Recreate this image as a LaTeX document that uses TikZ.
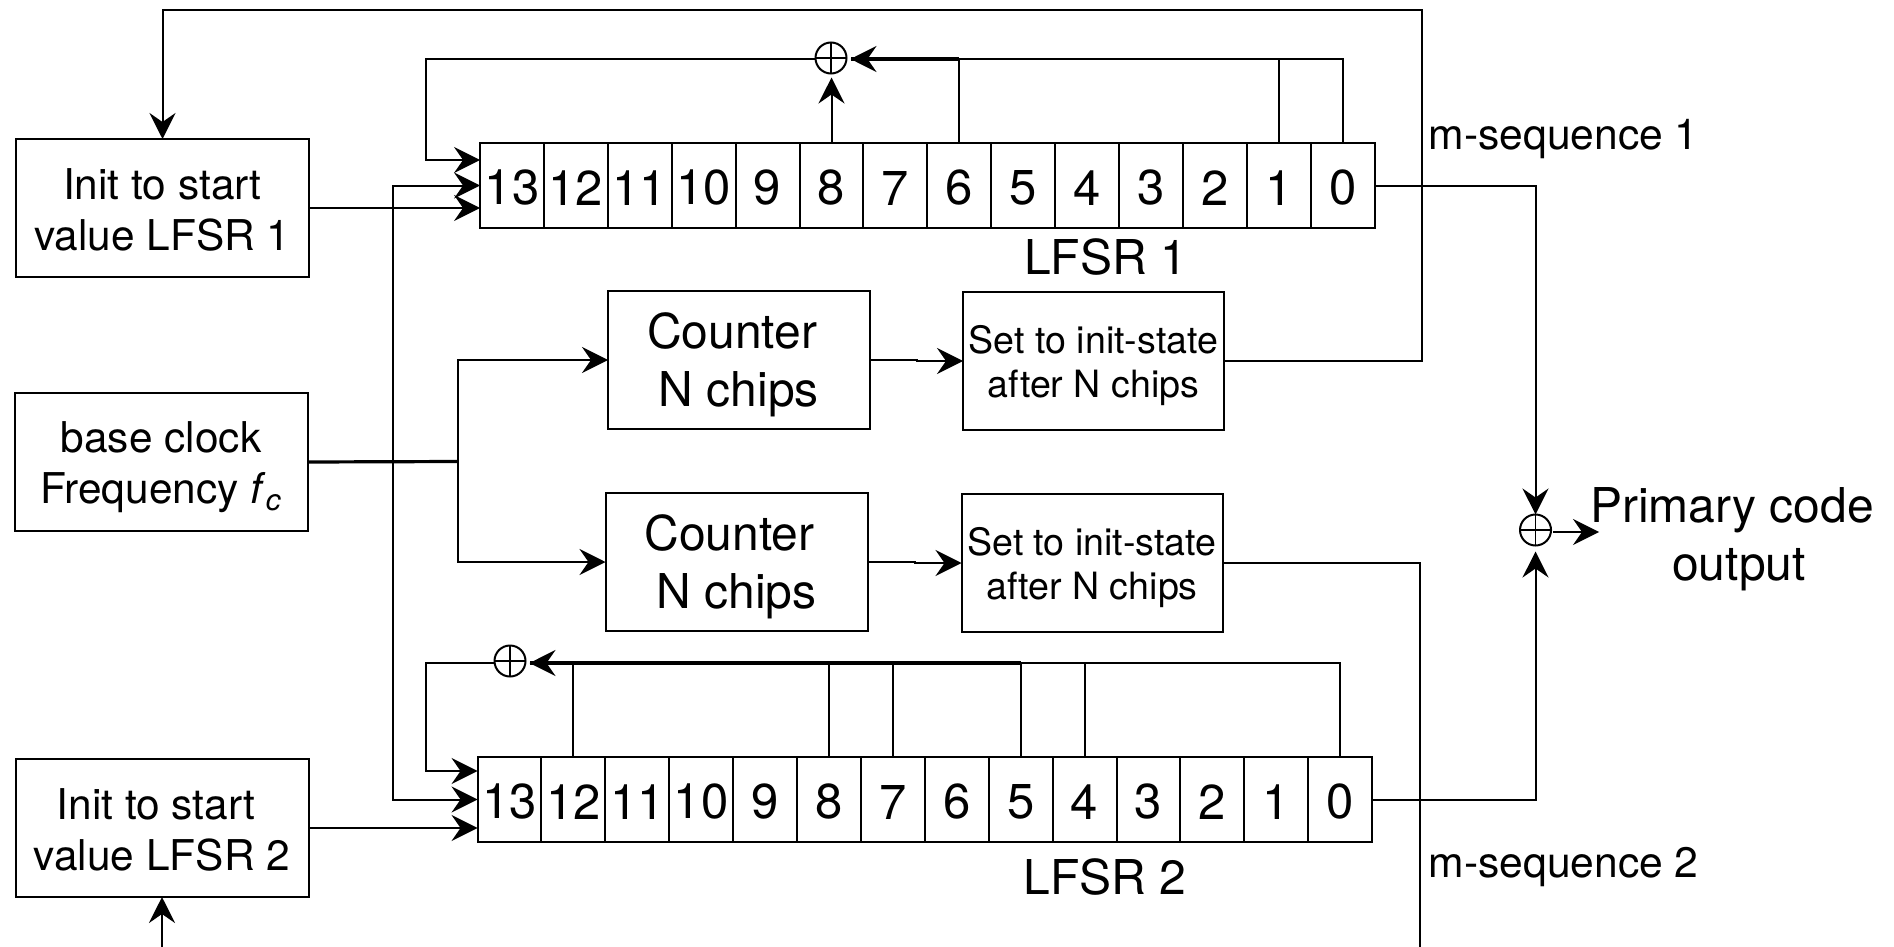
\documentclass[tikz,border=0pt]{standalone}
\usepackage{fontspec}
\setmainfont{TeX Gyre Heros}
\usepackage{tikz}
\usetikzlibrary{positioning,arrows.meta,calc}
% first-line strut, pushes a centred text down in its box
\newcommand{\topstrut}[1]{\rule{0pt}{#1}}
\tikzset{
  node-base/.style={draw=black,line width=1pt,inner sep=0pt,outer sep=0pt,align=center},
  node-init/.style={node-base,minimum width=146.5pt,minimum height=69pt,
    font=\fontsize{21.2}{25.5}\selectfont},
  node-count/.style={node-base,minimum width=131pt,minimum height=69pt,
    font=\fontsize{24}{29}\selectfont},
  node-reset/.style={node-base,minimum width=130.5pt,minimum height=69pt,
    font=\fontsize{18.8}{22}\selectfont},
  node-cell/.style={node-base,minimum width=31.95pt,minimum height=42.5pt,
    font=\fontsize{24.5}{29}\selectfont},
  node-xor/.style={draw=black,line width=1pt,circle,inner sep=0pt,outer sep=0pt,
    minimum size=15.5pt,path picture={
      \draw[line width=.8pt] (path picture bounding box.north) -- (path picture bounding box.south);
      \draw[line width=.8pt] (path picture bounding box.west) -- (path picture bounding box.east);}},
  text-big/.style={inner sep=0pt,outer sep=0pt,align=center,font=\fontsize{24}{29}\selectfont},
  text-small/.style={inner sep=0pt,outer sep=0pt,font=\fontsize{21.3}{25}\selectfont},
  wire/.style={line width=1pt,draw=black},
  wire-bus/.style={line width=1.6pt,draw=black},
  arrow/.style={-{Stealth[length=13pt,width=13pt,inset=4.5pt]},line width=1pt,draw=black},
}
\begin{document}
\begin{tikzpicture}[x=.5pt,y=-.5pt]
  \useasboundingbox (0,0) rectangle (1894,947);
  % left column
  \node[node-init]                                   (init1) at (162.5,208) {\topstrut{17pt}Init to start\\value LFSR 1};
  \node[node-init,below=58pt of init1,xshift=-.75pt] (clock) {\topstrut{21pt}base clock\\Frequency \textit{f}\textsubscript{\textit{c}}};
  \node[node-init,below=114pt of clock,xshift=.5pt]  (init2) {\topstrut{17pt}Init to start\hspace*{6pt}\\value LFSR 2};
  % counters
  \node[node-count]                                  (cnt1) at (739,360) {\topstrut{23pt}Counter\hspace*{7pt}\\N chips};
  \node[node-reset,right=46.5pt of cnt1,yshift=-.5pt] (set1) {\topstrut{19pt}Set to init-state\\after N chips};
  \node[node-count]                                  (cnt2) at (736.5,562) {\topstrut{23pt}Counter\hspace*{7pt}\\N chips};
  \node[node-reset,right=47pt of cnt2,yshift=-.5pt]  (set2) {\topstrut{19pt}Set to init-state\\after N chips};
  % shift registers
  \node[node-cell] (a13) at (512,185.5) {\topstrut{19.5pt}13};
  \node[node-cell] (b13) at (509.5,799.5) {\topstrut{19.5pt}13};
  \foreach \prev/\bit in {13/12,12/11,11/10,10/9,9/8,8/7,7/6,6/5,5/4,4/3,3/2,2/1,1/0} {
    \node[node-cell,right=0pt of a\prev] (a\bit) {\topstrut{19.5pt}\bit};
    \node[node-cell,right=0pt of b\prev] (b\bit) {\topstrut{19.5pt}\bit};
  }
  \node[text-big] (name1) at (1105.5,257) {LFSR 1};
  \node[text-big] (name2) at (1105,877) {LFSR 2};
  \node[text-small,anchor=west] (seq1) at (1428.5,139) {m-sequence 1};
  \node[text-small,anchor=west] (seq2) at (1428.5,867) {m-sequence 2};
  % xor gates
  \node[node-xor] (xor1) at (831,58) {};
  \node[node-xor] (xor2) at (510,661) {};
  \node[node-xor] (xor3) at (1535.5,530) {};
  \node[text-big] (out) at (1739,539) {Primary code\hspace*{7pt}\\output};
  \coordinate (fb1) at ([xshift=2pt,yshift=-.5pt]xor1.east);
  \coordinate (fb2) at ([xshift=2pt,yshift=-1pt]xor2.east);
  \coordinate (loop1) at (426,59);
  \coordinate (loop2) at (426,663);
  \coordinate (split) at (458,461.5);
  \coordinate (tap) at (393,461.5);
  \coordinate (ne) at (1422,10);
  \coordinate (exit2) at (1420,947);
  \coordinate (enter2) at (162,947);
  \coordinate (sink) at (1599,532);
  % clock
  \draw[wire-bus] (clock.east) -- (split);
  \draw[arrow] (split) |- (cnt1.west);
  \draw[arrow] (split) |- (cnt2.west);
  \draw[arrow] (tap) |- (a13.west);
  \draw[arrow] (tap) |- (b13.west);
  % start values
  \draw[arrow] (init1.east) -- (init1.east -| a13.west);
  \draw[arrow] (init2.east) -- (init2.east -| b13.west);
  % counters to reset
  \draw[arrow] (cnt1.east) -- ($(cnt1.east)!.5!(cnt1.east -| set1.west)$) |- (set1.west);
  \draw[arrow] (cnt2.east) -- ($(cnt2.east)!.5!(cnt2.east -| set2.west)$) |- (set2.west);
  \draw[arrow] (set1.east) -| (ne) -| (init1.north);
  \draw[wire] (set2.east) -| (exit2);
  \draw[arrow] (enter2) -- (init2.south);
  % feedback LFSR 1
  \draw[wire-bus] (a6.north |- fb1) -- (fb1);
  \draw[arrow] (a0.north) |- (fb1);
  \draw[wire] (a1.north) -- (a1.north |- fb1);
  \draw[wire] (a6.north) -- (a6.north |- fb1);
  \draw[arrow] (a8.north) -- ([yshift=-2pt]a8.north |- xor1.south);
  \draw[arrow] (xor1.west |- loop1) -- (loop1) |- ([yshift=-8.5pt]a13.north west);
  % feedback LFSR 2
  \draw[wire-bus] (b5.north |- fb2) -- (fb2);
  \draw[arrow] (b0.north) |- (fb2);
  \draw[wire] (b4.north) -- (b4.north |- fb2);
  \draw[wire] (b5.north) -- (b5.north |- fb2);
  \draw[wire] (b7.north) -- (b7.north |- fb2);
  \draw[wire] (b8.north) -- (b8.north |- fb2);
  \draw[wire] (b12.north) -- (b12.north |- fb2);
  \draw[arrow] (xor2.west |- loop2) -- (loop2) |- ([yshift=-7pt]b13.north west);
  % output
  \draw[arrow] (a0.east) -| (xor3.north);
  \draw[arrow] (b0.east) -| ([yshift=-3pt]xor3.south);
  \draw[arrow] ([xshift=1pt,yshift=-1pt]xor3.east) -- (sink);
\end{tikzpicture}
\end{document}
